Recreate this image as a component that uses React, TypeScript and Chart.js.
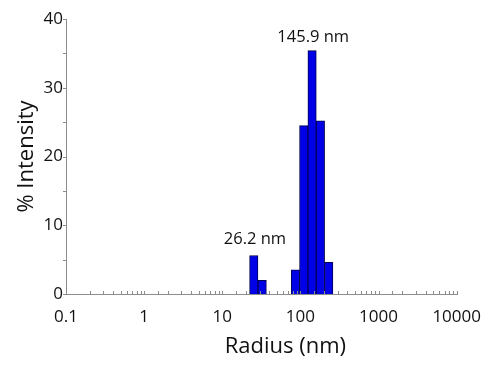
import React, { useEffect, useRef } from 'react';
import { Chart, registerables } from 'chart.js';

Chart.register(...registerables);

// Bin centres (nm) and % intensity
const radiusNm = [25.3, 32.4, 86.3, 110.3, 141.0, 180.2, 230.2];
const intensityPct = [5.6, 2.0, 3.5, 24.5, 35.4, 25.2, 4.6];

// Peak annotations
const peakRadius = [26.2, 145.9];
const peakLabelY = [7.9, 37.4];
const peakLabels = ['26.2 nm', '145.9 nm'];

// Axis labels
const xTickLabels = [0.1, 1, 10, 100, 1000, 10000];
const yTickLabels = [0, 10, 20, 30, 40];
const xTitle = 'Radius (nm)';
const yTitle = '% Intensity';

const FONT = '"Open Sans", "Noto Sans", sans-serif';
const AXIS_COLOR = '#8c8c8c';

const decor = {
  id: 'decor',
  afterDatasetsDraw(chart: any) {
    const { ctx, scales } = chart;
    const x = scales.x;
    const y = scales.y;
    ctx.save();
    ctx.strokeStyle = AXIS_COLOR;
    ctx.lineWidth = 1;
    ctx.beginPath();
    x.ticks.forEach((t: any) => {
      const px = Math.round(x.getPixelForValue(t.value)) + 0.5;
      ctx.moveTo(px, y.bottom - 3);
      ctx.lineTo(px, y.bottom + 1);
    });
    y.ticks.forEach((t: any) => {
      const py = Math.round(y.getPixelForValue(t.value)) + 0.5;
      ctx.moveTo(x.left - 3, py);
      ctx.lineTo(x.left + 1, py);
    });
    ctx.stroke();

    ctx.fillStyle = '#111';
    ctx.textAlign = 'center';
    ctx.textBaseline = 'middle';
    ctx.font = `16.5px ${FONT}`;
    peakRadius.forEach((r, i) => {
      ctx.fillText(peakLabels[i], x.getPixelForValue(r), y.getPixelForValue(peakLabelY[i]));
    });

    ctx.font = `22px ${FONT}`;
    ctx.fillText(xTitle, x.left + (x.right - x.left) / 2 + 24, 347);
    ctx.restore();
  },
};

export default function App() {
  const ref = useRef<HTMLCanvasElement | null>(null);

  useEffect(() => {
    if (!ref.current) return;
    const chart = new Chart(ref.current, {
      type: 'bar',
      data: {
        datasets: [
          {
            data: radiusNm.map((r, i) => ({ x: r, y: intensityPct[i] })),
            backgroundColor: '#0000E6',
            borderColor: '#000050',
            borderWidth: 1,
            barThickness: 8.4,
          },
        ],
      },
      options: {
        animation: false,
        responsive: false,
        maintainAspectRatio: false,
        layout: { padding: { top: 19, right: 36, left: 0, bottom: 0 } },
        plugins: { legend: { display: false }, tooltip: { enabled: false } },
        scales: {
          x: {
            type: 'logarithmic',
            min: 0.1,
            max: 10000,
            grid: { display: false, drawTicks: false },
            border: { display: true, color: AXIS_COLOR, width: 1 },
            ticks: {
              autoSkip: false,
              maxRotation: 0,
              padding: 13,
              color: '#111',
              font: { family: FONT, size: 17 },
              callback: (v: any) => {
                const n = Number(v);
                const hit = xTickLabels.find((t) => Math.abs(Math.log10(t) - Math.log10(n)) < 1e-6);
                return hit !== undefined ? String(hit) : '';
              },
            },
            afterFit: (s: any) => {
              s.height = 74;
            },
          },
          y: {
            min: 0,
            max: 40,
            grid: { display: false, drawTicks: false },
            border: { display: true, color: AXIS_COLOR, width: 1 },
            ticks: {
              stepSize: 5,
              padding: 3,
              color: '#111',
              font: { family: FONT, size: 17 },
              callback: (v: any) => (yTickLabels.includes(Number(v)) ? String(v) : ''),
            },
            title: {
              display: true,
              text: yTitle,
              color: '#111',
              font: { family: FONT, size: 22 },
              padding: { top: 14, bottom: 0 },
            },
            afterFit: (s: any) => {
              s.width = 66;
            },
          },
        },
      },
      plugins: [decor],
    });
    return () => chart.destroy();
  }, []);

  return (
    <div style={{ position: 'fixed', left: 0, top: 0, width: 494, height: 368, background: '#fff' }}>
      <canvas ref={ref} width={494} height={368} style={{ width: 494, height: 368 }} />
    </div>
  );
}
